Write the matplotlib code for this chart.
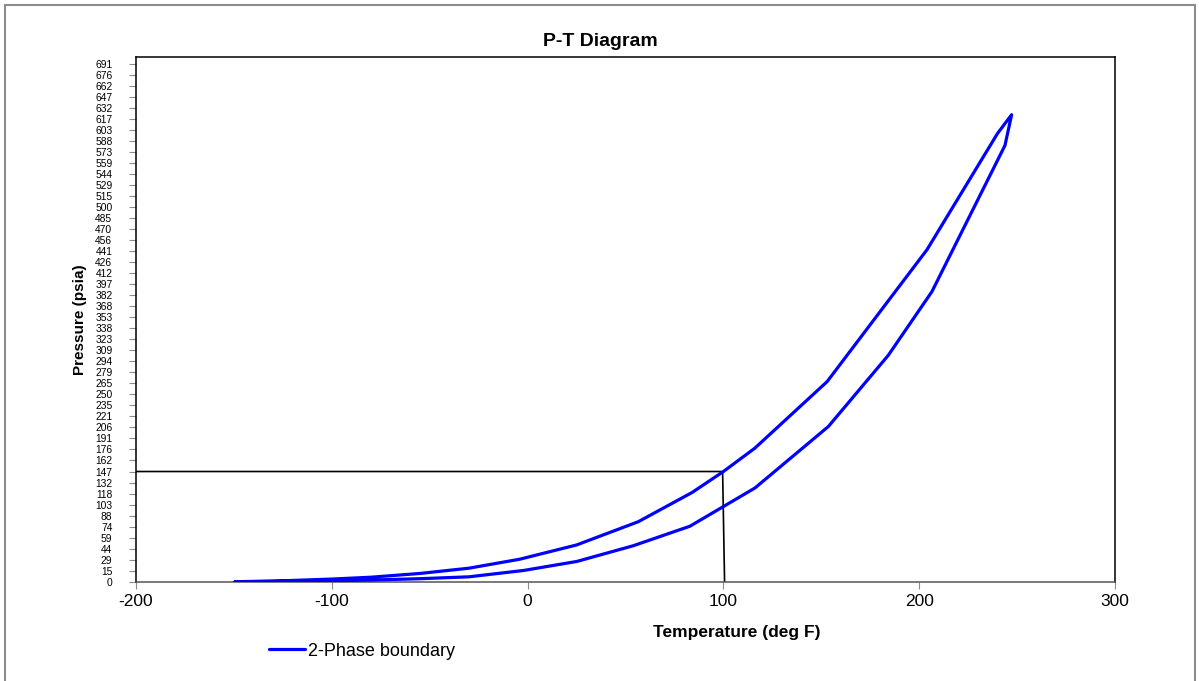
import numpy as np
import matplotlib.pyplot as plt
from matplotlib.patches import Rectangle

plt.rcParams['font.family'] = ['Liberation Sans', 'DejaVu Sans']

# Phase envelope: bubble side up to the critical point, then the dew side back down
temp_bubble = [-149.4, -130, -100, -80, -55, -30, -4, 25, 56.5, 84, 100, 116, 153, 204, 240, 247.2]
pres_bubble = [0.0, 0.8, 3.5, 6.0, 11, 18, 30, 49, 80, 119, 147, 178, 267, 443, 598, 623]
temp_dew = [243.8, 206.5, 184.2, 153.6, 116.1, 82.9, 54, 25.1, -2, -30, -55, -80, -110, -149.4]
pres_dew = [582, 387, 302, 207, 125, 74, 48, 27, 15, 6.5, 4.0, 2.2, 0.8, 0.0]

# Operating point marker lines (100 deg F, 147 psia)
ref_temp = [-200, 99.6, 100.6]
ref_pres = [147, 147, 0]

# Pressure axis labelled in steps of one atmosphere
psi_step = 14.7
ytick_labels = [0, 15, 29, 44, 59, 74, 88, 103, 118, 132, 147, 162, 176, 191, 206, 221,
                235, 250, 265, 279, 294, 309, 323, 338, 353, 368, 382, 397, 412, 426, 441,
                456, 470, 485, 500, 515, 529, 544, 559, 573, 588, 603, 617, 632, 647, 662,
                676, 691]
xticks = [-200, -100, 0, 100, 200, 300]

env_t = temp_bubble + temp_dew
env_p = pres_bubble + pres_dew

fig = plt.figure(figsize=(11.99, 6.81), dpi=100)
fig.patches.append(Rectangle((5 / 1199, -0.01), 1190 / 1199, 1 - 5 / 681 + 0.01,
                             transform=fig.transFigure, fill=False,
                             edgecolor='#8c8c8c', linewidth=1.5))

ax = fig.add_axes([136 / 1199, 99.3 / 681, 979 / 1199, 524.7 / 681])
ax.plot(ref_temp, ref_pres, color='black', linewidth=1.2, zorder=2)
line, = ax.plot(env_t, env_p, color='#0000ff', linewidth=2.3, zorder=3,
                solid_joinstyle='round', solid_capstyle='round')

ax.set_xlim(-200, 300)
ax.set_ylim(0, 700)
ax.set_xticks(xticks)
ax.set_xticklabels([str(v) for v in xticks], fontsize=12.5)
ax.set_yticks(np.arange(len(ytick_labels)) * psi_step)
ax.set_yticklabels([str(v) for v in ytick_labels], fontsize=7.4)
ax.tick_params(axis='y', direction='out', length=5, width=0.8, color='#8c8c8c', pad=12)
ax.tick_params(axis='x', direction='out', length=5, width=0.8, color='#8c8c8c', pad=4)
for s in ax.spines.values():
    s.set_color('black')
    s.set_linewidth(1.1)
ax.spines['bottom'].set_color('#555555')

ax.set_ylabel('Pressure (psia)', fontsize=11, fontweight='bold')
ax.yaxis.set_label_coords((87 - 136) / 979, 0.5)

fig.text(600 / 1199, 1 - 41 / 681, 'P-T Diagram', fontsize=14, fontweight='bold',
         ha='center', va='center')
fig.text(737 / 1199, 1 - 633 / 681, 'Temperature (deg F)', fontsize=12.5,
         fontweight='bold', ha='center', va='center')

fig.legend([line], ['2-Phase boundary'], loc='center left',
           bbox_to_anchor=(253 / 1199, 1 - 651 / 681), frameon=False,
           fontsize=13, handlelength=2.0, handletextpad=0.12)

fig.savefig('out.png', dpi=100)
